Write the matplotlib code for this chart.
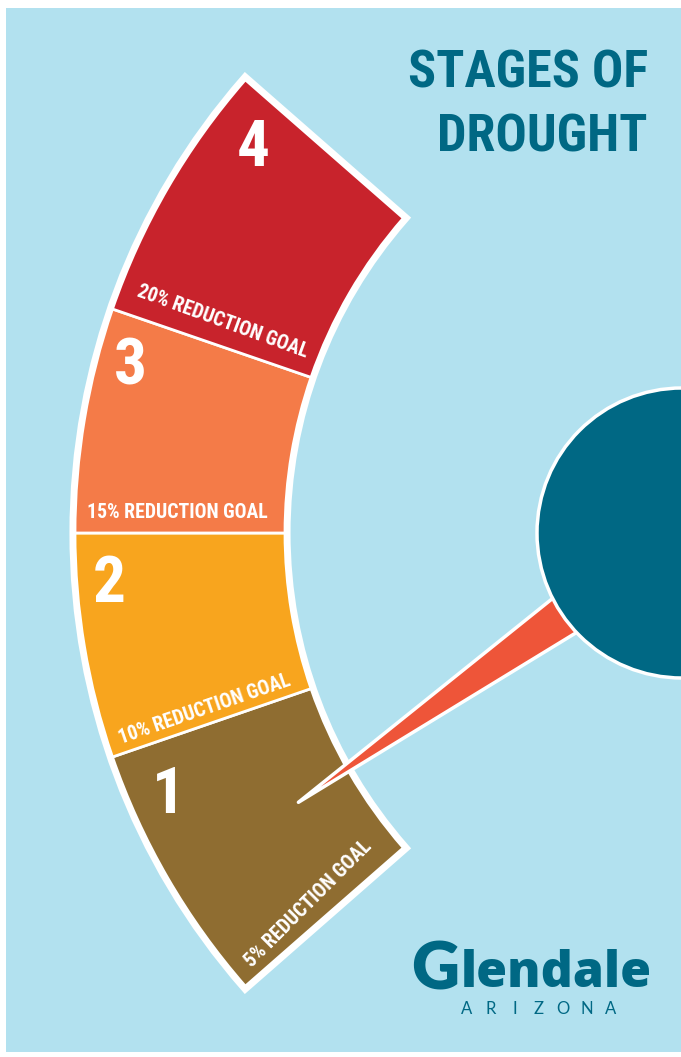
import numpy as np
import matplotlib.pyplot as plt
from matplotlib import font_manager
from matplotlib.patches import Wedge, Circle, Polygon, Rectangle

# stages from the bottom of the gauge to the top
stages = ['1', '2', '3', '4']
goals = [5, 10, 15, 20]
stage_colors = ['#8F6D31', '#F8A51E', '#F47B48', '#C8232C']
current_stage = 1

# layout (pixel space, y up)
W, H = 681, 1057
gc = (763, 524)          # centre of the gauge arcs
r_out, r_in = 688, 478
bounds = [221.2, 199, 180, 161, 138.8]   # angle edges, stage 1 .. stage 4
dial_c = (682, 524)
dial_r = 145
num_da = [4.7, 4.3, 4.1, 4.0]
num_r = [649, 656, 655, 640]
lab_da = [2.0, 1.5, 2.0, 2.4]
lab_r = [586, 586, 586, 580]
label_rot = [45, 19, 0, -20]

teal = '#006884'

# pick a condensed face if one is there
fl = font_manager.fontManager.ttflist
cond_file = None
for f in fl:
    if f.name in ('Liberation Sans Narrow', 'Roboto Condensed') and f.weight in (700, 'bold'):
        cond_file = f.fname
        break
if cond_file is None:
    for f in fl:
        if f.name == 'DejaVu Sans' and 'condensed' in str(f.stretch) and f.weight in (700, 'bold'):
            cond_file = f.fname
            break
if cond_file is not None:
    cprops = dict(fontproperties=font_manager.FontProperties(fname=cond_file))
else:
    cprops = dict(family=['Roboto', 'DejaVu Sans'], fontweight='bold')

fig = plt.figure(figsize=(W / 100, H / 100), dpi=100)
fig.patch.set_facecolor('white')
ax = fig.add_axes([0, 0, 1, 1])
ax.set_xlim(0, W)
ax.set_ylim(0, H)
ax.axis('off')

ax.add_patch(Rectangle((6, 5), W - 6, 1044, fc='#B2E1EF', ec='none', zorder=0))

# white border under the gauge
ax.add_patch(Wedge(gc, r_out, bounds[-1], bounds[0], width=r_out - r_in,
                   fc='white', ec='white', lw=8, joinstyle='miter', zorder=1))

def polar(ang, r):
    a = np.radians(ang)
    return gc[0] + r * np.cos(a), gc[1] + r * np.sin(a)

def ctext(x, y, s, size, **kw):
    t = ax.text(x, y, s, **kw, **cprops)
    t.set_fontsize(size)
    return t

for i, s in enumerate(stages):
    a_hi, a_lo = bounds[i], bounds[i + 1]
    ax.add_patch(Wedge(gc, r_out, a_lo, a_hi, width=r_out - r_in,
                       fc=stage_colors[i], ec='white', lw=2, zorder=2))
    x, y = polar(a_lo + num_da[i], num_r[i])
    ctext(x, y - 2, s, 47, color='white', ha='center', va='center', zorder=5)
    x, y = polar(a_hi - lab_da[i], lab_r[i])
    ctext(x, y, f'{goals[i]}% REDUCTION GOAL', 14.2, color='white',
          ha='center', va='center', rotation=label_rot[i],
          rotation_mode='anchor', zorder=5)

# needle pointing at the current stage
k = stages.index(str(current_stage))
tip = np.array(polar((bounds[k] + bounds[k + 1]) / 2, 537))
base = np.array(dial_c)
d = base - tip
n = np.array([-d[1], d[0]]) / np.hypot(*d)
needle = [tip, base + n * 30, base - n * 30]
ax.add_patch(Polygon(needle, closed=True, fc='#EE5539', ec='white', lw=2.5,
                     joinstyle='round', zorder=6))
ax.add_patch(Circle(dial_c, dial_r, fc='#006884', ec='white', lw=2.5, zorder=7))

# title
ctext(648, 970, 'STAGES OF', 37.5, color=teal, ha='right', va='baseline')
ctext(648, 905, 'DROUGHT', 37.5, color=teal, ha='right', va='baseline')

# logo
ax.text(411, 68, 'G', color=teal, fontsize=48, fontweight='heavy',
        family=['Lato', 'DejaVu Sans'], ha='left', va='baseline')
ax.text(461, 70, 'lendale', color=teal, fontsize=36, fontweight='heavy',
        family=['Open Sans', 'Lato', 'DejaVu Sans'], ha='left', va='baseline')
for j, ch in enumerate('ARIZONA'):
    ax.text(467 + j * 24, 43, ch, color=teal, fontsize=12, fontweight='normal',
            family=['Lato', 'DejaVu Sans'], ha='center', va='baseline')

plt.savefig('out.png', dpi=100)
